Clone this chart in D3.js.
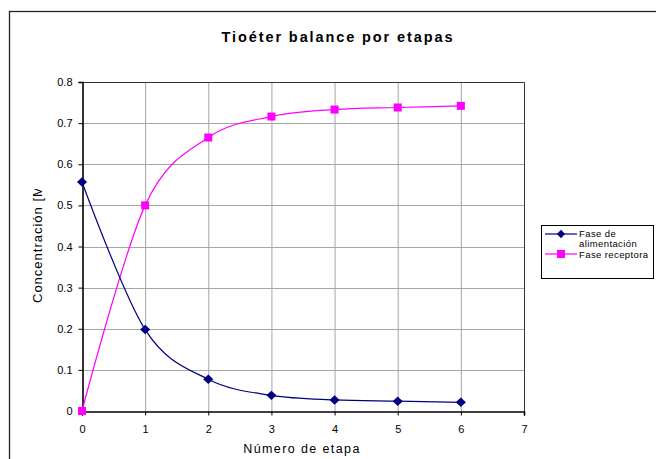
<!DOCTYPE html>
<html>
<head>
<meta charset="utf-8">
<script src="https://cdn.jsdelivr.net/npm/d3@7"></script>
<style>
  body { margin: 0; background: #fff; }
  svg { display: block; font-family: "Liberation Sans", Arial, sans-serif; }
</style>
</head>
<body>
<div id="chart"></div>
<script>
// Data
const etapas = [0, 1, 2, 3, 4, 5, 6];
const alimentacion = [0.557, 0.198, 0.077, 0.038, 0.027, 0.024, 0.021];
const receptora = [0, 0.5, 0.665, 0.716, 0.733, 0.738, 0.742];
const xTicks = [0, 1, 2, 3, 4, 5, 6, 7];
const yTicks = [0, 0.1, 0.2, 0.3, 0.4, 0.5, 0.6, 0.7, 0.8];

const width = 656, height = 459;
const plot = { left: 82, top: 82, right: 524, bottom: 411 };

const svg = d3.select("#chart").append("svg")
  .attr("width", width)
  .attr("height", height);

// outer chart border (cut off at right/bottom)
svg.append("rect")
  .attr("x", 9.5).attr("y", 11.5)
  .attr("width", 660).attr("height", 470)
  .attr("fill", "#fff")
  .attr("stroke", "#222").attr("stroke-width", 1.3);

const x = d3.scaleLinear().domain([0, 7]).range([plot.left, plot.right]);
const y = d3.scaleLinear().domain([0, 0.8]).range([plot.bottom, plot.top]);

// gridlines
svg.append("g").selectAll("line")
  .data(xTicks.slice(1, -1))
  .join("line")
  .attr("x1", d => x(d) + 0.5).attr("x2", d => x(d) + 0.5)
  .attr("y1", plot.top).attr("y2", plot.bottom)
  .attr("stroke", "#a6a6a6").attr("stroke-width", 1);

svg.append("g").selectAll("line")
  .data(yTicks.slice(1, -1))
  .join("line")
  .attr("x1", plot.left).attr("x2", plot.right)
  .attr("y1", d => Math.round(y(d)) + 0.5).attr("y2", d => Math.round(y(d)) + 0.5)
  .attr("stroke", "#a6a6a6").attr("stroke-width", 1);

// plot area top/right border
svg.append("path")
  .attr("d", `M${plot.left},${plot.top + 0.5}H${plot.right + 0.5}V${plot.bottom}`)
  .attr("fill", "none").attr("stroke", "#333").attr("stroke-width", 1);

// axes
const xAxis = svg.append("g")
  .attr("transform", `translate(0,${plot.bottom + 0.5})`)
  .call(d3.axisBottom(x).tickValues(xTicks).tickSize(4).tickPadding(10).tickFormat(d3.format("d")));

const yAxis = svg.append("g")
  .attr("transform", `translate(${plot.left + 0.5},0)`)
  .call(d3.axisLeft(y).tickValues(yTicks).tickSize(4).tickPadding(6)
    .tickFormat(d => d === 0 ? "0" : d3.format(".1f")(d)));

[xAxis, yAxis].forEach(g => {
  g.select(".domain").attr("stroke", "#000").attr("stroke-width", 1.6);
  g.selectAll(".tick line").attr("stroke", "#000");
  g.selectAll(".tick text")
    .attr("fill", "#000")
    .style("font-size", "11px")
    .style("font-family", "'Liberation Sans', Arial, sans-serif");
});

// title
svg.append("text")
  .attr("x", 338).attr("y", 42)
  .attr("text-anchor", "middle")
  .style("font-size", "14.5px").style("font-weight", "bold")
  .style("letter-spacing", "1.9px")
  .text("Tioéter balance por etapas");

// axis titles
svg.append("text")
  .attr("x", 302).attr("y", 453)
  .attr("text-anchor", "middle")
  .style("font-size", "12.5px").style("letter-spacing", "1.4px")
  .text("Número de etapa");

svg.append("clipPath").attr("id", "yclip")
  .append("rect").attr("x", 20).attr("y", 189).attr("width", 40).attr("height", 200);

svg.append("g").attr("clip-path", "url(#yclip)")
  .append("text")
  .attr("transform", "translate(42,303) rotate(-90)")
  .attr("text-anchor", "start")
  .style("font-size", "13px").style("letter-spacing", "1px")
  .text("Concentración [M]");

// series
const curve = d3.curveCatmullRom.alpha(0);
const line = d3.line().x(d => x(d[0])).y(d => y(d[1])).curve(curve);

const seriesA = etapas.map((e, i) => [e, alimentacion[i]]);
const seriesB = etapas.map((e, i) => [e, receptora[i]]);

svg.append("path").datum(seriesB)
  .attr("d", line).attr("fill", "none")
  .attr("stroke", "#ff00ff").attr("stroke-width", 1.2);

svg.append("path").datum(seriesA)
  .attr("d", line).attr("fill", "none")
  .attr("stroke", "#000080").attr("stroke-width", 1.2);

const diamond = d3.symbol().type(d3.symbolDiamond).size(26);

svg.append("g").selectAll("path")
  .data(seriesA)
  .join("path")
  .attr("d", diamond)
  .attr("transform", d => `translate(${x(d[0])},${y(d[1])}) scale(1.85,1)`)
  .attr("fill", "#000080");

svg.append("g").selectAll("rect")
  .data(seriesB)
  .join("rect")
  .attr("x", d => x(d[0]) - 4).attr("y", d => y(d[1]) - 4)
  .attr("width", 8).attr("height", 8)
  .attr("fill", "#ff00ff");

// legend
const legend = svg.append("g");
legend.append("rect")
  .attr("x", 541.5).attr("y", 225.5)
  .attr("width", 112).attr("height", 53)
  .attr("fill", "#fff").attr("stroke", "#000").attr("stroke-width", 1);

legend.append("line")
  .attr("x1", 545).attr("x2", 577).attr("y1", 234).attr("y2", 234)
  .attr("stroke", "#000080").attr("stroke-width", 1.2);
legend.append("path")
  .attr("d", d3.symbol().type(d3.symbolDiamond).size(20))
  .attr("transform", "translate(561,234) scale(1.7,1)")
  .attr("fill", "#000080");
legend.append("line")
  .attr("x1", 545).attr("x2", 577).attr("y1", 254).attr("y2", 254)
  .attr("stroke", "#ff00ff").attr("stroke-width", 1.2);
legend.append("rect")
  .attr("x", 557).attr("y", 250).attr("width", 8).attr("height", 8)
  .attr("fill", "#ff00ff");

const legendText = [
  { t: "Fase de", y: 236.5 },
  { t: "alimentación", y: 247 },
  { t: "Fase receptora", y: 257.5 }
];
legend.selectAll("text.lt")
  .data(legendText)
  .join("text")
  .attr("class", "lt")
  .attr("x", 579).attr("y", d => d.y)
  .style("font-size", "9.5px").style("letter-spacing", "0.4px")
  .text(d => d.t);
</script>
</body>
</html>
